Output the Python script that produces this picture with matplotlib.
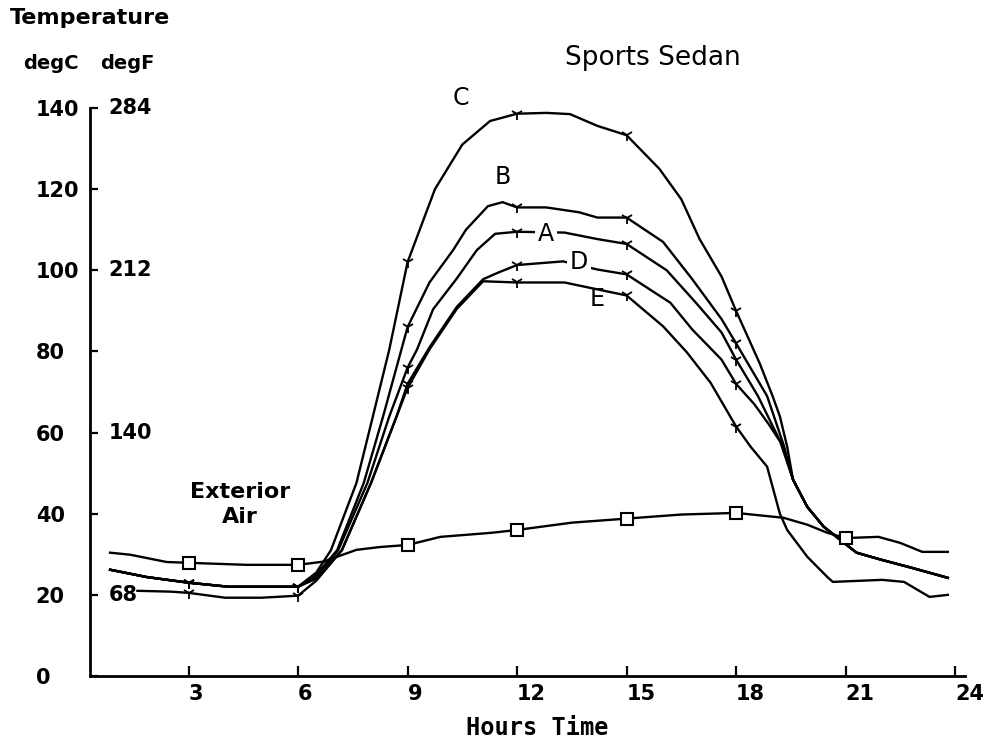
import matplotlib
matplotlib.use("Agg")
import matplotlib.pyplot as plt

# ---------- Data (hours, degC) ----------
ext_hours = [0.85, 1.4, 2.4, 3, 4.6, 6, 6.7, 7.6, 8.25, 9, 9.9, 11.3, 12, 13.5, 15,
             16.5, 18, 19.3, 19.95, 20.5, 21, 21.9, 22.5, 23.1, 23.8]
ext_temps = [30.4, 29.9, 28.1, 27.9, 27.4, 27.4, 28.2, 31.1, 31.8, 32.3, 34.3, 35.3, 36,
             37.8, 38.8, 39.8, 40.2, 39.0, 37.3, 35.3, 34.0, 34.3, 32.8, 30.6, 30.6]

# shared night-time part of A-D
night_hours = [0.85, 1.85, 3, 4.1, 6]
night_temps = [26.2, 24.4, 23.0, 22.0, 22.0]
tail_hours = [19.56, 19.95, 20.4, 20.85, 21.3, 22.0, 22.8, 23.8]
tail_temps = [48.4, 41.7, 36.8, 33.6, 30.4, 28.6, 26.7, 24.2]

c_hours = night_hours + [6.5, 6.9, 7.6, 8.05, 8.5, 9, 9.75, 10.5, 11.26, 12, 12.8, 13.45,
                         14.2, 15, 15.9, 16.5, 17.0, 17.6, 18, 18.65, 19.0, 19.2, 19.4] + tail_hours
c_temps = night_temps + [25.5, 31, 47.6, 64, 80.5, 102, 120, 131, 136.8, 138.6, 138.8, 138.5,
                         135.6, 133.3, 125, 117.5, 107.7, 98.5, 90, 77, 69, 64, 56.5] + tail_temps

b_hours = night_hours + [6.5, 7.07, 7.8, 8.33, 9, 9.6, 10.25, 10.6, 11.2, 11.6, 12, 12.8, 13.7,
                         14.2, 15, 16.0, 16.8, 17.6, 18, 18.85, 19.3] + tail_hours
b_temps = night_temps + [25, 31, 47.6, 64, 86, 97, 105, 110, 115.8, 116.8, 115.5, 115.5, 114.3,
                         113, 113, 107, 97.8, 88, 82, 69, 57] + tail_temps

a_hours = night_hours + [6.5, 7.1, 7.9, 8.5, 9, 9.26, 9.7, 10.35, 10.9, 11.4, 12, 13.3, 14.2,
                         15, 16.1, 16.9, 17.6, 18, 18.6, 19.2] + tail_hours
a_temps = night_temps + [24.5, 31, 47.6, 64, 76, 80.5, 90.4, 98, 105, 109, 109.5, 109.3, 107.7,
                         106.5, 100, 92, 84.7, 78, 69, 58] + tail_temps

d_hours = night_hours + [6.5, 7.2, 8.0, 8.7, 9, 9.6, 10.35, 11.07, 11.5, 12, 13.26, 14.2, 15,
                         16.2, 16.8, 17.6, 18, 18.5, 18.9, 19.3] + tail_hours
d_temps = night_temps + [24, 31, 47.6, 64, 72, 81, 91, 97.8, 99.5, 101.3, 102.2, 100.2, 99,
                         92, 85.4, 78, 72, 67, 62, 56.5] + tail_temps

e_hours = [1.6, 2.5, 3, 4, 5, 6, 6.5, 7.2, 8.0, 8.7, 9, 9.6, 10.35, 11.07, 12, 13.3, 14.2, 15,
           16.0, 16.65, 17.3, 18, 18.4, 18.85, 19.2, 19.4, 19.95, 20.5, 20.65, 22.0, 22.6,
           23.3, 23.8]
e_temps = [21, 20.8, 20.5, 19.3, 19.3, 19.8, 23.5, 31, 47.6, 64, 71, 80.5, 90.5, 97.3, 97, 97,
           95.3, 93.8, 86.2, 79.8, 72.3, 61.5, 56.5, 51.6, 40, 36, 29.4, 24.4, 23.2, 23.7, 23.2,
           19.5, 20]

curves = [("C", c_hours, c_temps), ("B", b_hours, b_temps), ("A", a_hours, a_temps),
          ("D", d_hours, d_temps), ("E", e_hours, e_temps)]

mark_hours = [3, 6, 9, 12, 15, 18]
square_hours = [3, 6, 9, 12, 15, 18, 21]

x_ticks = [3, 6, 9, 12, 15, 18, 21, 24]
c_ticks = [0, 20, 40, 60, 80, 100, 120, 140]
f_ticks_at = [140, 100, 60, 20]
f_labels = ["284", "212", "140", "68"]

# curve label positions (hours, degC)
label_pos = {"C": (10.45, 142.5), "B": (11.6, 123), "A": (12.8, 109), "D": (13.7, 102),
             "E": (14.2, 93)}

fig = plt.figure(figsize=(9.9, 7.45), dpi=100)
ax = fig.add_axes([0.0909, 0.0926, 0.8838, 0.7624])

# ---------- Draw ----------
for name, hrs, tmp in curves:
    idx = [i for i, h in enumerate(hrs) if h in mark_hours]
    ax.plot(hrs, tmp, color="black", linewidth=1.7, marker="1", markersize=9,
            markeredgewidth=1.3, markevery=idx, solid_joinstyle="round", zorder=3)

sq_idx = [i for i, h in enumerate(ext_hours) if h in square_hours]
ax.plot(ext_hours, ext_temps, color="black", linewidth=1.7, marker="s", markersize=8,
        markerfacecolor="white", markeredgewidth=1.5, markevery=sq_idx, zorder=4)

for name, (hx, ty) in label_pos.items():
    box = dict(fc="white", ec="none", pad=2) if name in ("A", "D") else None
    ax.text(hx, ty, name, fontsize=17, ha="center", va="center", bbox=box,
            clip_on=False, zorder=5)

ax.text(4.4, 42.3, "Exterior\nAir", fontsize=16, fontweight="bold", ha="center",
        va="center", linespacing=1.35)

# ---------- Axes ----------
ax.set_xlim(0.3, 24.27)
ax.set_ylim(0, 140)
ax.spines["top"].set_visible(False)
ax.spines["right"].set_visible(False)
for s in ("left", "bottom"):
    ax.spines[s].set_linewidth(2)

ax.set_xticks(x_ticks)
ax.set_xticklabels([str(t) for t in x_ticks])
ax.set_yticks(c_ticks)
ax.set_yticklabels([str(t) for t in c_ticks])
ax.tick_params(axis="x", direction="in", length=7, width=1.6, pad=6, labelsize=15)
ax.tick_params(axis="y", direction="in", length=6, width=1.6, pad=39, labelsize=15)
for lbl in ax.get_xticklabels() + ax.get_yticklabels():
    lbl.set_fontweight("bold")
for lbl in ax.get_xticklabels():
    lbl.set_horizontalalignment("left")
for lbl in ax.get_yticklabels():
    lbl.set_horizontalalignment("left")

for yv, txt in zip(f_ticks_at, f_labels):
    ax.text(0.021, yv, txt, transform=ax.get_yaxis_transform(), fontsize=15,
            fontweight="bold", ha="left", va="center")

ax.set_xlabel("Hours Time", fontsize=17, fontweight="bold", family="DejaVu Sans Mono")
ax.xaxis.label.set_verticalalignment("center")
ax.xaxis.set_label_coords(0.511, -0.092)

# ---------- Header text ----------
fig.text(0.010, 0.976, "Temperature", fontsize=16, fontweight="bold", va="center")
fig.text(0.023, 0.915, "degC", fontsize=14, fontweight="bold", va="center")
fig.text(0.101, 0.915, "degF", fontsize=14, fontweight="bold", va="center")
fig.text(0.659, 0.922, "Sports Sedan", fontsize=19, ha="center", va="center")

fig.savefig("out.png", dpi=100)
